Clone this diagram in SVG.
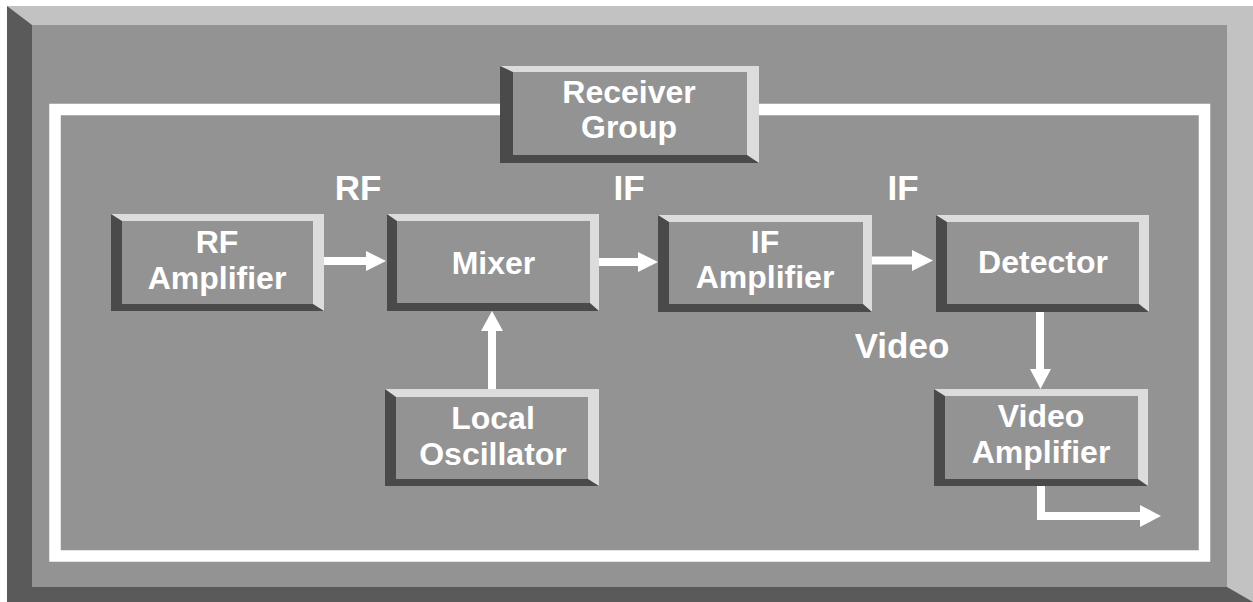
<svg xmlns="http://www.w3.org/2000/svg" width="1253" height="602" viewBox="0 0 1253 602">
<style>
.lt{fill:#dcdcdc}.dk{fill:#4a4a4a}.fc{fill:#939393}
.t{font-family:"Liberation Sans",Arial,sans-serif;font-weight:bold;fill:#fff;text-anchor:middle}
.bt{font-size:32px}.lb{font-size:35px}
.ln{stroke:#fff;stroke-width:8;fill:none}
.ah{fill:#fff}
</style>
<rect width="1253" height="602" fill="#fff"/>
<g id="frame">
<rect x="7" y="6" width="1246" height="596" fill="#c2c2c2"/>
<polygon points="7,6 32,25 32,587 1227,587 1253,602 7,602" fill="#5a5a5a"/>
<rect x="32" y="25" width="1195" height="562" fill="#939393"/>
<rect x="55" y="109.5" width="1149.5" height="446.5" fill="none" stroke="#fff" stroke-width="11.5"/>
</g>
<g id="connectors">
<line class="ln" x1="324" y1="261" x2="367" y2="261"/><polygon class="ah" points="366,251 386,261 366,271"/>
<line class="ln" x1="599" y1="262" x2="639" y2="262"/><polygon class="ah" points="638,252 658,262 638,272"/>
<line class="ln" x1="872" y1="260.5" x2="913" y2="260.5"/><polygon class="ah" points="912,250 933,260.5 912,271"/>
<line class="ln" x1="492" y1="389" x2="492" y2="330"/><polygon class="ah" points="481,331 492,311 503,331"/>
<line class="ln" x1="1040" y1="311" x2="1040" y2="370"/><polygon class="ah" points="1030,369 1040.5,389 1051,369"/>
<polyline class="ln" points="1041,486 1041,516 1141,516"/><polygon class="ah" points="1140,505 1161,516 1140,527"/>
</g>
<g id="labels">
<text class="t lb" x="358" y="200">RF</text>
<text class="t lb" x="629" y="200">IF</text>
<text class="t lb" x="903" y="200">IF</text>
<text class="t lb" x="902" y="358">Video</text>
</g>
<g id="receiver-group">
<rect class="lt" x="500" y="66" width="259" height="97"/>
<polygon class="dk" points="500,66 513,72 513,155 747,155 759,163 500,163"/>
<rect class="fc" x="513" y="72" width="234" height="83"/>
<text class="t bt" x="629" y="103">Receiver</text>
<text class="t bt" x="629" y="138">Group</text>
</g>
<g id="rf-amplifier">
<rect class="lt" x="111" y="214" width="213" height="97"/>
<polygon class="dk" points="111,214 122,221 122,304 313,304 324,311 111,311"/>
<rect class="fc" x="122" y="221" width="191" height="83"/>
<text class="t bt" x="217" y="252.5">RF</text>
<text class="t bt" x="217" y="288.5">Amplifier</text>
</g>
<g id="mixer">
<rect class="lt" x="387" y="214" width="212" height="97"/>
<polygon class="dk" points="387,214 397,221 397,303 590,303 599,311 387,311"/>
<rect class="fc" x="397" y="221" width="193" height="82"/>
<text class="t bt" x="493.5" y="274">Mixer</text>
</g>
<g id="if-amplifier">
<rect class="lt" x="658" y="215" width="214" height="97"/>
<polygon class="dk" points="658,215 669,222 669,304 863,304 872,312 658,312"/>
<rect class="fc" x="669" y="222" width="194" height="82"/>
<text class="t bt" x="765" y="253">IF</text>
<text class="t bt" x="765" y="288">Amplifier</text>
</g>
<g id="detector">
<rect class="lt" x="936" y="215" width="213" height="97"/>
<polygon class="dk" points="936,215 947,222 947,304 1139,304 1149,312 936,312"/>
<rect class="fc" x="947" y="222" width="192" height="82"/>
<text class="t bt" x="1043" y="273">Detector</text>
</g>
<g id="local-oscillator">
<rect class="lt" x="385" y="389" width="214" height="97"/>
<polygon class="dk" points="385,389 396,397 396,479 588,479 599,486 385,486"/>
<rect class="fc" x="396" y="397" width="192" height="82"/>
<text class="t bt" x="493" y="429">Local</text>
<text class="t bt" x="493" y="465">Oscillator</text>
</g>
<g id="video-amplifier">
<rect class="lt" x="934" y="389" width="214" height="97"/>
<polygon class="dk" points="934,389 945,396 945,479 1138,479 1148,486 934,486"/>
<rect class="fc" x="945" y="396" width="193" height="83"/>
<text class="t bt" x="1041" y="426.5">Video</text>
<text class="t bt" x="1041" y="462.5">Amplifier</text>
</g>
</svg>
